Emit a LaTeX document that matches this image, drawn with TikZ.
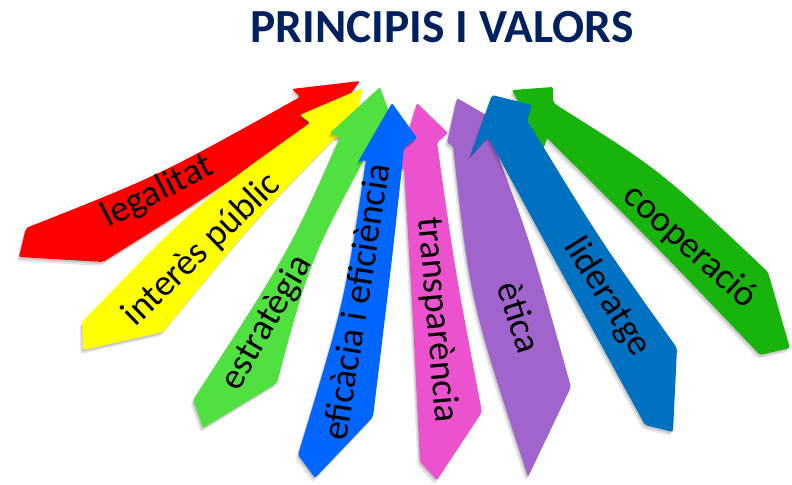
\documentclass[tikz,border=0pt]{standalone}
\usepackage{fontspec}
\setmainfont{Carlito}
\usepackage{xcolor}
\usepackage{tikz}
\usetikzlibrary{shadows}
\definecolor{titlenavy}{RGB}{0, 32, 96}
\definecolor{legalred}{RGB}{255, 0, 0}
\definecolor{publicyellow}{RGB}{255, 255, 0}
\definecolor{strategygreen}{RGB}{80, 224, 64}
\definecolor{efficiencyblue}{RGB}{0, 102, 255}
\definecolor{transparentpink}{RGB}{236, 82, 206}
\definecolor{ethicspurple}{RGB}{160, 100, 204}
\definecolor{leadershipblue}{RGB}{0, 112, 192}
\definecolor{coopgreen}{RGB}{24, 180, 12}

\begin{document}
\begin{tikzpicture}[x=1bp, y=-1bp,
    valuearrow/.style={rounded corners=2bp,
      drop shadow={shadow xshift=-1bp, shadow yshift=-2bp, opacity=.13, fill=black},
      drop shadow={shadow xshift=-2.5bp, shadow yshift=-4bp, opacity=.10, fill=black}},
    valuetext/.style={font=\fontsize{37bp}{40bp}\selectfont, text=black, inner sep=0pt}]
            \useasboundingbox (0,0) rectangle (792,485);

            \node[anchor=base, text=titlenavy, font=\fontsize{47.5bp}{50bp}\selectfont\bfseries] (title) at (442,43) {PRINCIPIS I VALORS};

            % arrows, back to front
            \fill[legalred, valuearrow] (19,257) -- (103,262) .. controls (205,198) .. (306,128) -- (318,138) -- (360,81) -- (292,89) -- (300,97) .. controls (160,175) .. (26,228) -- cycle;
            \fill[publicyellow, valuearrow] (83,350) -- (163,332) .. controls (255,220) .. (336,137) -- (350,140) -- (363,88) -- (300,115) -- (310,123) .. controls (195,205) .. (82,322) -- cycle;
            \fill[strategygreen, valuearrow] (203,428) -- (277,383) .. controls (310,260) .. (372,145) -- (395,128) -- (380,87) -- (330,133) -- (340,137) .. controls (290,250) .. (193,400) -- cycle;
            \fill[transparentpink, valuearrow] (437,480) -- (482,412) .. controls (455,270) .. (437,142) -- (448,133) -- (417,103) -- (396,172) -- (404,168) .. controls (412,300) .. (420,462) -- cycle;
            \fill[efficiencyblue, valuearrow] (315,478) -- (373,417) .. controls (392,260) .. (404,148) -- (417,138) -- (392,103) -- (358,162) -- (366,160) .. controls (345,300) .. (298,455) -- cycle;
            \fill[ethicspurple, valuearrow] (571,387) .. controls (530,240) .. (492,140) -- (505,126) -- (457,98) -- (447,143) -- (453,146) .. controls (470,300) .. (528,477) -- cycle;
            \fill[coopgreen, valuearrow] (790,348) -- (760,355) .. controls (660,250) .. (547,138) -- (543,150) -- (512,90) -- (553,87) -- (553,102) -- (558,106) .. controls (660,170) .. (768,272) -- cycle;
            \fill[leadershipblue, valuearrow] (673,432) -- (677,348) .. controls (600,240) .. (527,120) -- (532,105) -- (492,95) -- (470,157) -- (488,137) .. controls (560,270) .. (645,425) -- cycle;

            % labels
            \node[valuetext, rotate=27] (legalitat) at (158,192) {legalitat};
            \node[valuetext, rotate=44] (interes) at (202,250) {interès públic};
            \node[valuetext, rotate=60] (estrategia) at (267,323) {estratègia};
            \node[valuetext, rotate=81] (eficacia) at (356,302) {eficàcia i eficiència};
            \node[valuetext, rotate=-85] (transparencia) at (437,320) {transparència};
            \node[valuetext, rotate=-72] (etica) at (520,317) {ètica};
            \node[valuetext, rotate=-58] (lideratge) at (607,297) {lideratge};
            \node[valuetext, rotate=-42] (cooperacio) at (690,247) {cooperació};
        \end{tikzpicture}
\end{document}
